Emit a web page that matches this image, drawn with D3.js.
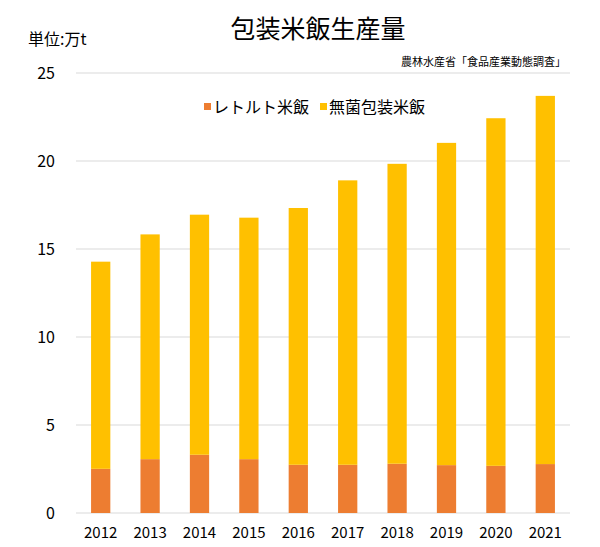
<!DOCTYPE html>
<html>
<head>
<meta charset="utf-8">
<script src="https://cdn.jsdelivr.net/npm/d3@7"></script>
<style>
  body { margin: 0; background: #fff; }
  svg text { font-family: "Noto Sans CJK JP", "Noto Sans", sans-serif; fill: #000; }
</style>
</head>
<body>
<svg></svg>
<script>
// Data (万t)
const years = ["2012", "2013", "2014", "2015", "2016", "2017", "2018", "2019", "2020", "2021"];
const retort = [2.51, 3.06, 3.31, 3.06, 2.74, 2.74, 2.8, 2.72, 2.68, 2.78];
const aseptic = [11.77, 12.77, 13.64, 13.72, 14.59, 16.16, 17.04, 18.31, 19.75, 20.92];
const seriesNames = ["レトルト米飯", "無菌包装米飯"];
const yTicks = [0, 5, 10, 15, 20, 25];

const W = 600, H = 547;
const margin = {top: 73, right: 30, bottom: 34, left: 76};

const svg = d3.select("svg")
  .attr("width", W)
  .attr("height", H);

const color = d3.scaleOrdinal()
  .domain(seriesNames)
  .range(["#ED7D31", "#FFC000"]);

const x = d3.scaleBand()
  .domain(years)
  .range([margin.left, W - margin.right])
  .paddingInner(0.61)
  .paddingOuter(0.305);

const y = d3.scaleLinear()
  .domain([0, 25])
  .range([H - margin.bottom, margin.top]);

// gridlines
svg.append("g")
  .selectAll("line")
  .data(yTicks)
  .join("line")
  .attr("x1", margin.left)
  .attr("x2", W - margin.right)
  .attr("y1", d => y(d))
  .attr("y2", d => y(d))
  .attr("stroke", "#d9d9d9")
  .attr("stroke-width", 1.2);

// y labels
const yAxis = svg.append("g")
  .attr("transform", `translate(${margin.left - 21},0)`)
  .call(d3.axisLeft(y).tickValues(yTicks).tickSize(0).tickPadding(0));
yAxis.select(".domain").remove();
yAxis.selectAll("text")
  .attr("font-size", "16px")
  .attr("fill", "#000");

// x labels
const xAxis = svg.append("g")
  .attr("transform", `translate(0,${H - margin.bottom})`)
  .call(d3.axisBottom(x).tickSize(0).tickPadding(14));
xAxis.select(".domain").remove();
xAxis.selectAll("text")
  .attr("font-size", "15px")
  .attr("fill", "#000");

// stacked bars
const table = years.map((yr, i) => ({year: yr, [seriesNames[0]]: retort[i], [seriesNames[1]]: aseptic[i]}));
const stacked = d3.stack().keys(seriesNames)(table);

svg.append("g")
  .selectAll("g")
  .data(stacked)
  .join("g")
  .attr("fill", d => color(d.key))
  .selectAll("rect")
  .data(d => d)
  .join("rect")
  .attr("x", d => x(d.data.year))
  .attr("y", d => y(d[1]))
  .attr("width", x.bandwidth())
  .attr("height", d => y(d[0]) - y(d[1]));

// title
svg.append("text")
  .attr("x", 318)
  .attr("y", 38)
  .attr("text-anchor", "middle")
  .attr("font-size", "25px")
  .text("包装米飯生産量");

// unit
svg.append("text")
  .attr("x", 28)
  .attr("y", 45)
  .attr("font-size", "16px")
  .text("単位:万t");

// source
svg.append("text")
  .attr("x", 566)
  .attr("y", 66)
  .attr("text-anchor", "end")
  .attr("font-size", "11px")
  .text("農林水産省「食品産業動態調査」");

// legend
const legend = svg.append("g")
  .attr("transform", "translate(204,107)");
const legendX = [0, 116];
seriesNames.forEach((name, i) => {
  legend.append("rect")
    .attr("x", legendX[i])
    .attr("y", -4)
    .attr("width", 7)
    .attr("height", 7)
    .attr("fill", color(name));
  legend.append("text")
    .attr("x", legendX[i] + 9)
    .attr("y", 6)
    .attr("font-size", "16px")
    .text(name);
});
</script>
</body>
</html>
